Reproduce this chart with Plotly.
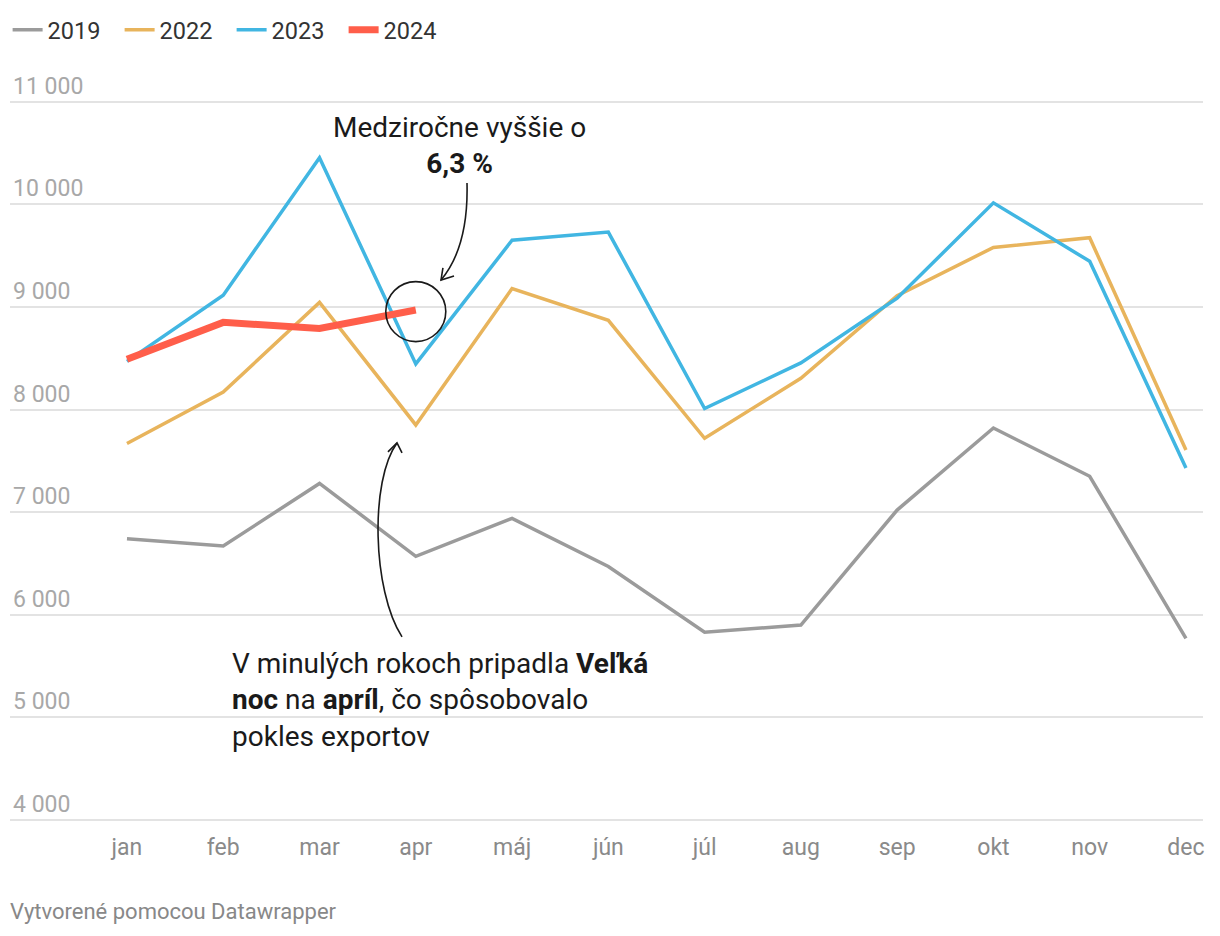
import plotly.graph_objects as go

months = ["jan", "feb", "mar", "apr", "máj", "jún", "júl", "aug", "sep", "okt", "nov", "dec"]
x_idx = list(range(len(months)))

y2019 = [6740, 6670, 7280, 6570, 6940, 6470, 5830, 5900, 7020, 7820, 7350, 5770]
y2022 = [7670, 8170, 9045, 7850, 9180, 8870, 7720, 8305, 9110, 9580, 9675, 7605]
y2023 = [8470, 9115, 10455, 8445, 9650, 9730, 8010, 8455, 9085, 10015, 9445, 7430]
y2024 = [8490, 8850, 8790, 8970]

series = [
    ("2019", y2019, "#9b9b9b", 3.5),
    ("2022", y2022, "#e8b45c", 3.5),
    ("2023", y2023, "#41b6e2", 3.5),
    ("2024", y2024, "#ff5e4a", 7),
]

y_ticks = [4000, 5000, 6000, 7000, 8000, 9000, 10000, 11000]

FONT = "Roboto"

fig = go.Figure()
for name, vals, color, w in series:
    fig.add_trace(go.Scatter(
        x=x_idx[:len(vals)], y=vals, name=name, mode="lines",
        line=dict(color=color, width=w), hoverinfo="skip",
    ))

fig.update_layout(
    width=1220, height=936,
    paper_bgcolor="white", plot_bgcolor="white",
    margin=dict(l=10, r=17, t=71, b=114),
    font=dict(family=FONT, size=22, color="#333333"),
    separators=", ",
    showlegend=True,
    legend=dict(
        orientation="h", x=-0.002, xanchor="left",
        yref="container", y=1 - 8 / 936, yanchor="top",
        font=dict(family=FONT, size=23.5, color="#333333"),
        itemwidth=30, tracegroupgap=0,
        entrywidth=67, entrywidthmode="pixels",
    ),
    xaxis=dict(
        range=[-1.215, 11.177], tickvals=x_idx, ticktext=months,
        showgrid=False, zeroline=False, showline=False,
        ticks="outside", ticklen=4, tickcolor="rgba(0,0,0,0)",
        tickfont=dict(family=FONT, size=23, color="#8a8a8a"),
    ),
    yaxis=dict(
        range=[3980, 11300], tickvals=y_ticks, tickformat=",d",
        showgrid=True, gridcolor="#e3e3e3", gridwidth=2,
        zeroline=False, showline=False,
        ticklabelposition="inside top",
        tickfont=dict(family=FONT, size=23, color="#a8a8a8"),
    ),
)

# annotations
fig.add_annotation(
    x=3.459, y=10570, xref="x", yref="y",
    text="Medziročne vyššie o<br><b>6,3 %</b>",
    showarrow=False, align="center", xanchor="center", yanchor="middle",
    font=dict(family=FONT, size=28, color="#1a1a1a"),
)
fig.add_annotation(
    x=1.07, y=5170, xref="x", yref="y",
    text="V minulých rokoch pripadla <b>Veľká</b><br><b>noc</b> na <b>apríl</b>, čo spôsobovalo<br>pokles exportov",
    showarrow=False, align="left", xanchor="left", yanchor="middle",
    font=dict(family=FONT, size=28, color="#1a1a1a"),
)
fig.add_annotation(
    x=-0.002, y=-0.1198, xref="paper", yref="paper",
    xanchor="left", yanchor="middle", showarrow=False,
    text="Vytvorené pomocou Datawrapper",
    font=dict(family=FONT, size=22, color="#888888"),
)

# curved arrows and circle
arrow_line = dict(color="#1a1a1a", width=1.6)
fig.add_shape(type="path", xref="x", yref="y", line=arrow_line,
              path="M 3.532 10209 C 3.542 9848, 3.480 9507, 3.262 9263")
fig.add_shape(type="path", xref="x", yref="y", line=arrow_line,
              path="M 3.282 9380 L 3.262 9263 L 3.397 9302")
fig.add_shape(type="path", xref="x", yref="y", line=arrow_line,
              path="M 2.857 5784 C 2.545 6242, 2.524 7314, 2.805 7675")
fig.add_shape(type="path", xref="x", yref="y", line=arrow_line,
              path="M 2.711 7587 L 2.805 7675 L 2.857 7577")
fig.add_shape(type="circle", xref="x", yref="y",
              xsizemode="pixel", ysizemode="pixel",
              xanchor=3, yanchor=8955, x0=-30, x1=30, y0=-30, y1=30,
              line=dict(color="#1a1a1a", width=1.6))

fig.write_html("out.html", config={"displayModeBar": False},
               post_script="document.body.style.margin='0';")
